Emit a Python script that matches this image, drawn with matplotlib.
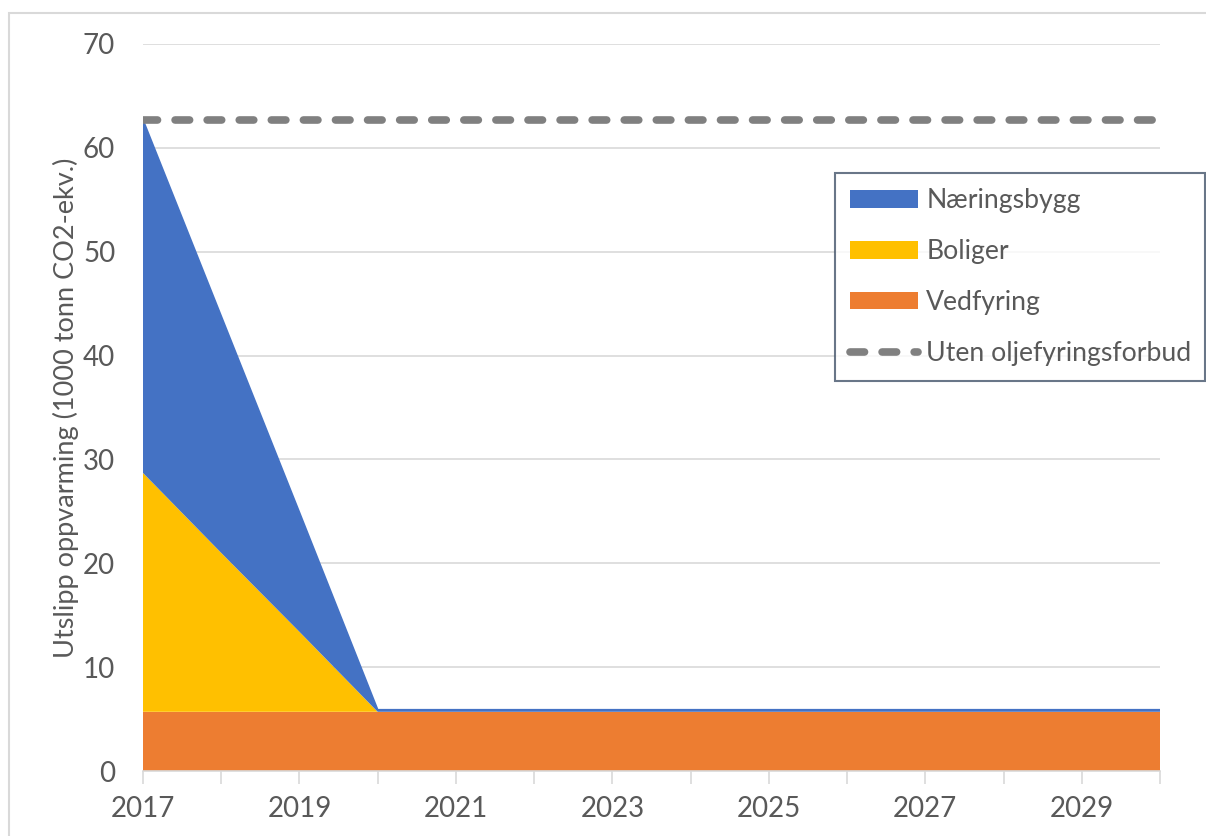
import matplotlib
matplotlib.use('Agg')
import matplotlib.pyplot as plt
import numpy as np
from matplotlib.patches import Rectangle

# data (1000 tonn CO2-ekv.)
years = np.arange(2017, 2031)
vedfyring = [5.7] * 14
boliger = [23.0, 15.3, 7.7] + [0.0] * 11
naeringsbygg = [34.0, 22.8, 11.5] + [0.2] * 11
uten_forbud = [62.7] * 14

labels = ['Næringsbygg', 'Boliger', 'Vedfyring', 'Uten oljefyringsforbud']
col_naer = '#4472C4'
col_bol = '#FFC000'
col_ved = '#ED7D31'
txt = '#595959'

plt.rcParams['font.family'] = ['Lato', 'DejaVu Sans']

W, H = 1206, 836
fig = plt.figure(figsize=(W / 100, H / 100), dpi=100)
fig.patches.append(Rectangle((9 / W, -0.1), 1.2, 1 - 13 / H + 0.1, transform=fig.transFigure,
                             fill=False, edgecolor='#D9D9D9', linewidth=1.5))

ax = fig.add_axes([143 / W, 1 - 771 / H, (1160 - 143) / W, (771 - 44) / H])
polys = ax.stackplot(years, vedfyring, boliger, naeringsbygg,
                     colors=[col_ved, col_bol, col_naer], linewidth=0)
ax.plot(years, np.array(vedfyring) + np.array(boliger) + np.array(naeringsbygg),
        color=col_naer, linewidth=1.2)
line, = ax.plot(years, uten_forbud, color='#808080', linewidth=5.5,
                dash_capstyle='round', zorder=5)
line.set_dashes((1.9, 2.3))

ax.set_xlim(2017, 2030)
ax.set_ylim(0, 70)
ax.set_yticks(np.arange(0, 71, 10))
ax.set_xticks(np.arange(2017, 2030, 2))
ax.set_xticks(np.arange(2017, 2031, 1), minor=True)
ax.grid(axis='y', color='#D9D9D9', linewidth=1.2)
ax.set_axisbelow(True)
for s in ['top', 'right', 'left']:
    ax.spines[s].set_visible(False)
ax.spines['bottom'].set_color('#D9D9D9')
ax.spines['bottom'].set_linewidth(1.2)
ax.tick_params(axis='y', length=0, pad=20, labelsize=20, labelcolor=txt)
ax.tick_params(axis='x', which='both', length=9, width=1.2, color='#D9D9D9',
               labelsize=20, labelcolor=txt, pad=9)
ax.set_ylabel('Utslipp oppvarming (1000 tonn CO2-ekv.)', fontsize=19.5, color=txt, labelpad=3)

handles = [polys[2], polys[1], polys[0], line]
leg = fig.legend(handles, labels, loc='upper left',
                 bbox_to_anchor=(835 / W, 1 - 173 / H - 0.01, (1205 - 835) / W, 0.01),
                 mode='expand', fontsize=19.2, frameon=True, fancybox=False,
                 handlelength=2.55, handleheight=0.64, handletextpad=0.3,
                 labelspacing=0.97, borderpad=0.57, borderaxespad=0)
leg.get_frame().set_edgecolor('#44546A')
leg.get_frame().set_linewidth(1.5)
for t in leg.get_texts():
    t.set_color(txt)

fig.savefig('out.png', dpi=100)
